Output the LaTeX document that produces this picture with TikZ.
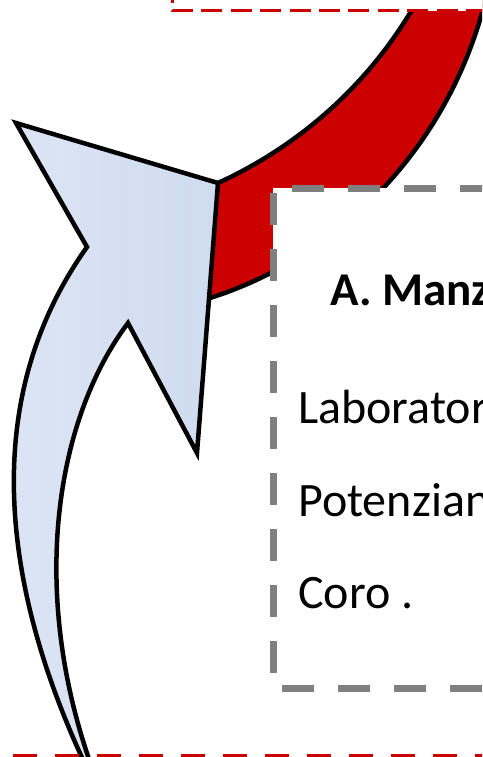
\documentclass[tikz,border=0pt]{standalone}
\usepackage{fontspec}
\setmainfont{Carlito}
\usepackage{tikz}
\usetikzlibrary{positioning}
\definecolor{bandred}{RGB}{204,0,0}
\definecolor{boxgray}{RGB}{127,127,127}
\definecolor{arrowlight}{RGB}{222,230,245}
\definecolor{arrowdark}{RGB}{207,219,240}

\begin{document}
\begin{tikzpicture}[
    x=1pt, y=-1pt,
    outline/.style={
      draw=black,
      line width=4.5pt
    },
    band/.style={
      outline,
      fill=bandred
    },
    upshape/.style={
      outline,
      left color=arrowlight,
      right color=arrowdark
    },
    textbox/.style={
      draw=boxgray,
      fill=white,
      line width=7pt,
      dash pattern=on 32pt off 24pt
    },
    redframe/.style={
      draw=bandred,
      line width=3pt,
      dash pattern=on 21pt off 8.4pt
    },
    redframelow/.style={
      draw=bandred,
      line width=3pt,
      dash pattern=on 24pt off 18pt
    },
    heading/.style={
      anchor=base west,
      inner sep=0pt,
      font=\bfseries\fontsize{47}{56}\selectfont
    },
    entry/.style={
      anchor=base west,
      inner sep=0pt,
      text height=32pt,
      text depth=10pt,
      font=\fontsize{48}{58}\selectfont
    }
  ]
    \useasboundingbox (0,0) rectangle (482,757);
    \clip (0,0) rectangle (482,757);

    % Red curved band (behind everything)
    \draw [band] (424,-5) -- (410,13) .. controls (360,95) and (290,150) .. (218,183)
      -- (200,192) -- (196,302) -- (210,298)
      .. controls (330,260) and (440,160) .. (482,13) -- (487,-5) -- cycle;

    % Blue curved arrow
    \draw [upshape] (16,123) -- (218,183) -- (197,453) -- (128,323)
      .. controls (55,420) and (30,590) .. (90,762) -- (84,762)
      .. controls (-5,570) and (-15,390) .. (87,247) -- cycle;

    % Upper red frame
    \fill [white] (172,-30) rectangle (500,11);
    \draw [redframe] (172,-18.4) -- (172,11) -- (500,11);

    % Gray dashed box
    \draw [textbox] (548,188) -- (273,188) -- (273,688) -- (548,688);

    % Texts
    \node (title) [heading] at (330,305) {A. Manz};
    \node (lab) [entry] at (298,423) {Laborator};
    \node (pot) [entry, below=51pt of lab.south west, anchor=north west] {Potenzian};
    \node (coro) [entry, below=50pt of pot.south west, anchor=north west] {Coro .};

    % Lower red frame
    \draw [redframelow] (13,755) -- (500,755);

  \end{tikzpicture}
\end{document}
